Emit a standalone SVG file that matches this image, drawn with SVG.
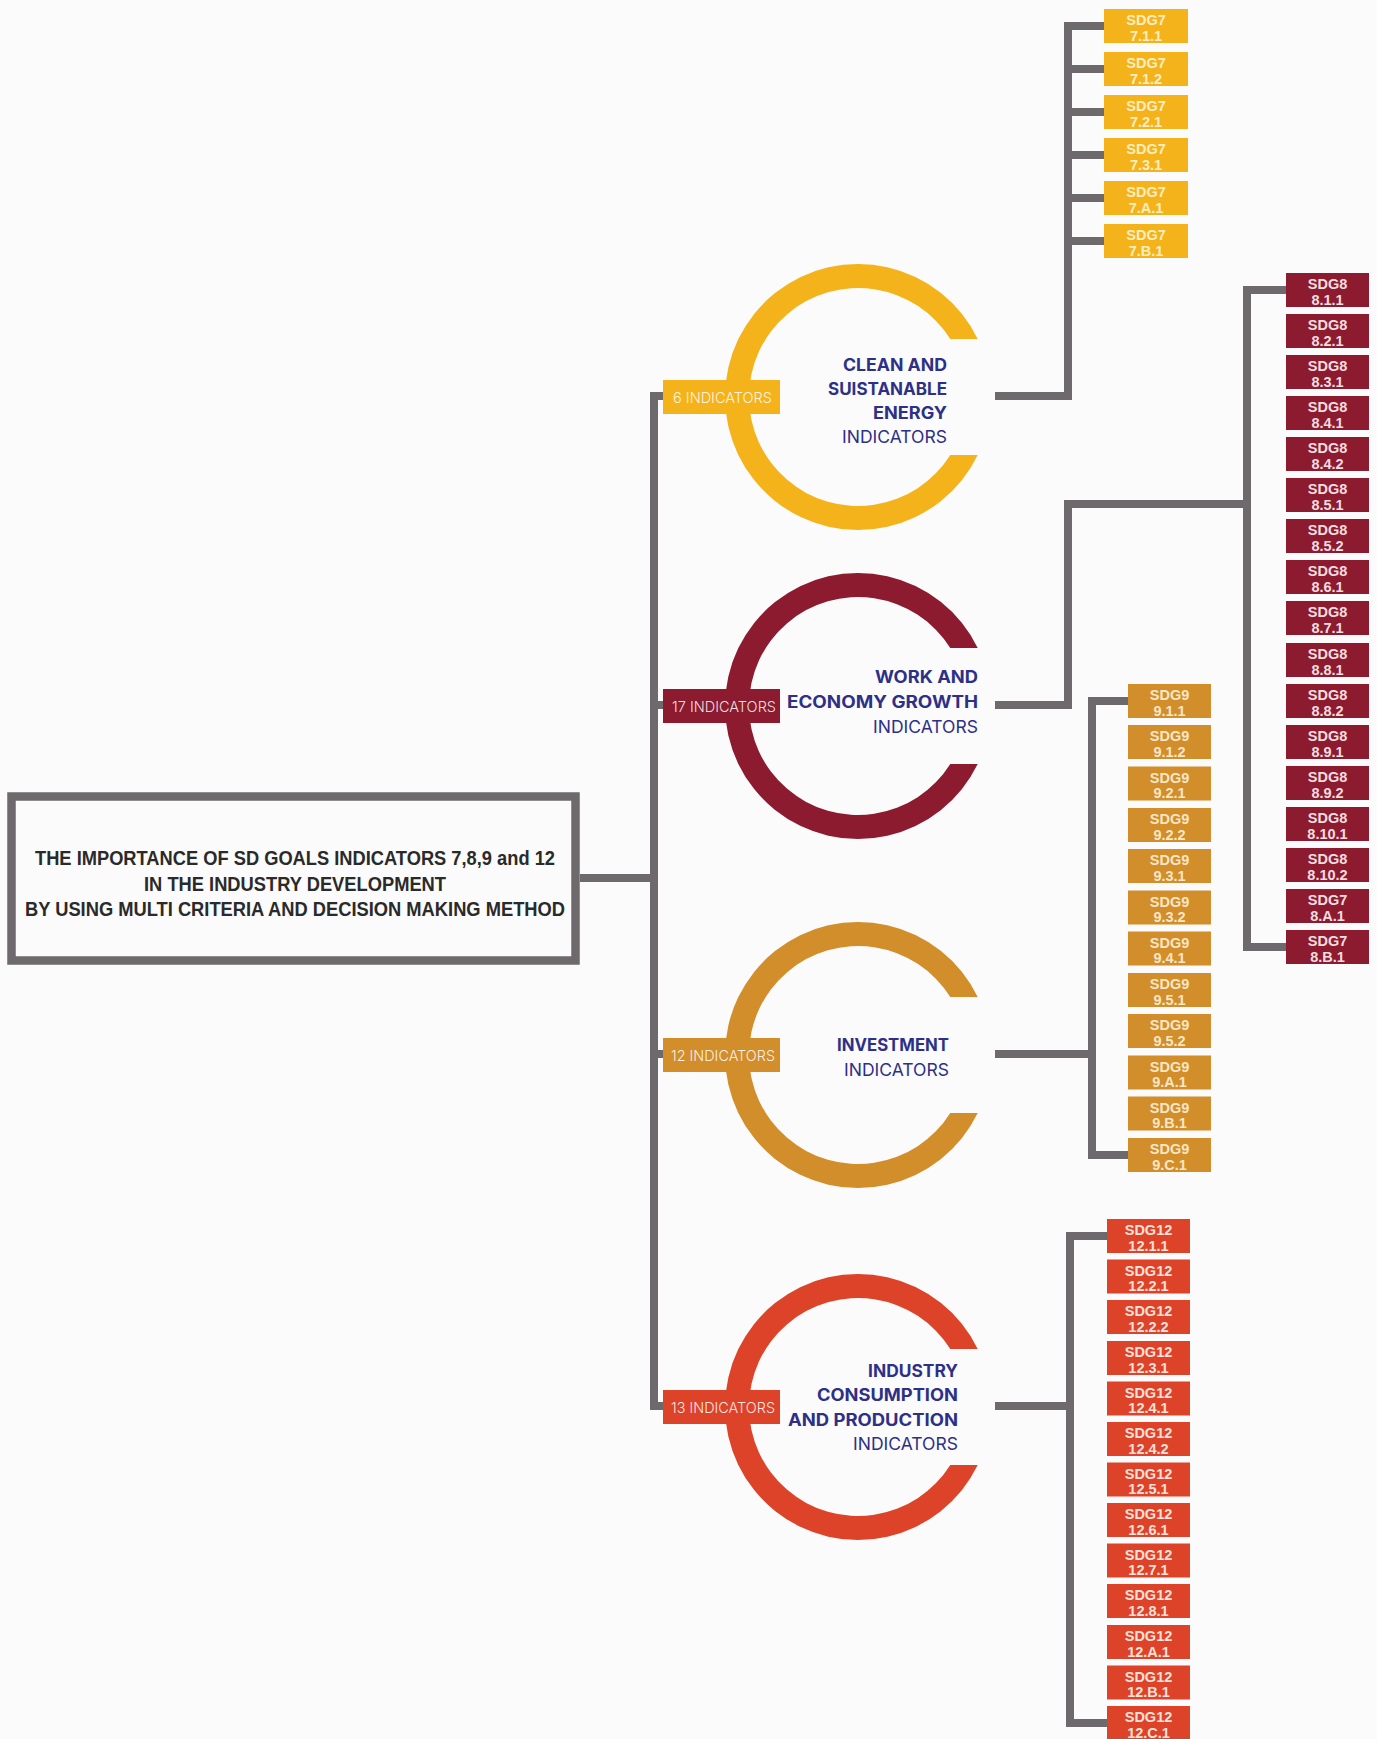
<svg xmlns="http://www.w3.org/2000/svg" xmlns:xlink="http://www.w3.org/1999/xlink" width="1377" height="1739" viewBox="0 0 1377 1739">
<style>
.conn{fill:none;stroke:#6e696c;stroke-width:8;stroke-linejoin:miter;stroke-linecap:butt}
.title{font-family:"Liberation Sans",Arial,sans-serif;font-weight:700;font-size:21px;fill:#2a2a2a;text-anchor:middle}
.hb{font-family:Inter,"Noto Sans",sans-serif;font-weight:700;font-size:17px;fill:#2e3087;text-anchor:end}
.hr{font-family:Inter,"Noto Sans",sans-serif;font-weight:400;font-size:17px;fill:#2e3087;text-anchor:end}
.ind{font-family:Inter,"Noto Sans",sans-serif;font-weight:300;font-size:15px;fill:#fff;fill-opacity:0.88}
.bx{font-family:"Liberation Sans",Arial,sans-serif;font-weight:700;font-size:14.5px;text-anchor:middle}
.y{fill:#f5b31b}.c{fill:#8c1b2f}.g{fill:#d28e2a}.r{fill:#dd4329}
.ty{fill:#fdeec0}.tc{fill:#f4dde0}.tg{fill:#f8e6c6}.tr{fill:#fbe1da}
</style>
<defs>
<path id="ring" d="M119.7,-58 A133,133 0 1,0 119.7,58 L92.3,58 A109,109 0 1,1 92.3,-58 Z"/>
</defs>
<rect width="1377" height="1739" fill="#fbfbfb"/>

<g id="connectors">
<path class="conn" d="M580,878 H654"/>
<path class="conn" d="M663,396 H654 V1406 H663 M654,705 H663 M654,1054 H663"/>
<path class="conn" d="M995,396 H1068 V26 H1104 M1068,69 H1104 M1068,112 H1104 M1068,155 H1104 M1068,198 H1104 M1068,241 H1104"/>
<path class="conn" d="M995,705 H1068 V504 H1247 M1286,290 H1247 V947 H1286"/>
<path class="conn" d="M995,1054 H1092 M1128,701 H1092 V1155 H1128"/>
<path class="conn" d="M995,1406 H1070 M1107,1236 H1070 V1723 H1107"/>
</g>

<g id="main">
<rect x="11.5" y="796.5" width="564" height="164" fill="#fbfbfb" stroke="#6e696c" stroke-width="8.5"/>
<text class="title" x="295" y="865" textLength="520" lengthAdjust="spacingAndGlyphs">THE IMPORTANCE OF SD GOALS INDICATORS 7,8,9 and 12</text>
<text class="title" x="295" y="891" textLength="302" lengthAdjust="spacingAndGlyphs">IN THE INDUSTRY DEVELOPMENT</text>
<text class="title" x="295" y="916" textLength="540" lengthAdjust="spacingAndGlyphs">BY USING MULTI CRITERIA AND DECISION MAKING METHOD</text>
</g>

<g id="goal7">
<use xlink:href="#ring" href="#ring" x="858" y="397" class="y"/>
<rect x="663" y="380" width="117" height="34" class="y"/>
<text class="ind" x="673" y="402.5" textLength="99" lengthAdjust="spacingAndGlyphs">6 INDICATORS</text>
<text class="hb" x="947" y="371" textLength="104" lengthAdjust="spacingAndGlyphs">CLEAN AND</text>
<text class="hb" x="947" y="395" textLength="119" lengthAdjust="spacingAndGlyphs">SUISTANABLE</text>
<text class="hb" x="947" y="419" textLength="74" lengthAdjust="spacingAndGlyphs">ENERGY</text>
<text class="hr" x="947" y="443" textLength="105" lengthAdjust="spacingAndGlyphs">INDICATORS</text>
</g>

<g id="goal8">
<use xlink:href="#ring" href="#ring" x="858" y="706" class="c"/>
<rect x="663" y="689" width="117" height="34" class="c"/>
<text class="ind" x="672" y="711.5" textLength="104" lengthAdjust="spacingAndGlyphs">17 INDICATORS</text>
<text class="hb" x="978" y="683" textLength="103" lengthAdjust="spacingAndGlyphs">WORK AND</text>
<text class="hb" x="978" y="708" textLength="191" lengthAdjust="spacingAndGlyphs">ECONOMY GROWTH</text>
<text class="hr" x="978" y="733" textLength="105" lengthAdjust="spacingAndGlyphs">INDICATORS</text>
</g>

<g id="goal9">
<use xlink:href="#ring" href="#ring" x="858" y="1055" class="g"/>
<rect x="663" y="1038" width="117" height="34" class="g"/>
<text class="ind" x="671" y="1060.5" textLength="104" lengthAdjust="spacingAndGlyphs">12 INDICATORS</text>
<text class="hb" x="949" y="1051" textLength="112" lengthAdjust="spacingAndGlyphs">INVESTMENT</text>
<text class="hr" x="949" y="1076" textLength="105" lengthAdjust="spacingAndGlyphs">INDICATORS</text>
</g>

<g id="goal12">
<use xlink:href="#ring" href="#ring" x="858" y="1407" class="r"/>
<rect x="663" y="1390" width="117" height="34" class="r"/>
<text class="ind" x="671" y="1412.5" textLength="104" lengthAdjust="spacingAndGlyphs">13 INDICATORS</text>
<text class="hb" x="958" y="1377" textLength="90" lengthAdjust="spacingAndGlyphs">INDUSTRY</text>
<text class="hb" x="958" y="1401" textLength="141" lengthAdjust="spacingAndGlyphs">CONSUMPTION</text>
<text class="hb" x="958" y="1426" textLength="170" lengthAdjust="spacingAndGlyphs">AND PRODUCTION</text>
<text class="hr" x="958" y="1450" textLength="105" lengthAdjust="spacingAndGlyphs">INDICATORS</text>
</g>

<g id="sdg7-boxes">
<g id="s7-711"><rect x="1104" y="9" width="84" height="34" class="y"/><text class="bx ty" x="1146" y="25">SDG7</text><text class="bx ty" x="1146" y="40.5">7.1.1</text></g>
<g id="s7-712"><rect x="1104" y="52" width="84" height="34" class="y"/><text class="bx ty" x="1146" y="68">SDG7</text><text class="bx ty" x="1146" y="83.5">7.1.2</text></g>
<g id="s7-721"><rect x="1104" y="95" width="84" height="34" class="y"/><text class="bx ty" x="1146" y="111">SDG7</text><text class="bx ty" x="1146" y="126.5">7.2.1</text></g>
<g id="s7-731"><rect x="1104" y="138" width="84" height="34" class="y"/><text class="bx ty" x="1146" y="154">SDG7</text><text class="bx ty" x="1146" y="169.5">7.3.1</text></g>
<g id="s7-7a1"><rect x="1104" y="181" width="84" height="34" class="y"/><text class="bx ty" x="1146" y="197">SDG7</text><text class="bx ty" x="1146" y="212.5">7.A.1</text></g>
<g id="s7-7b1"><rect x="1104" y="224" width="84" height="34" class="y"/><text class="bx ty" x="1146" y="240">SDG7</text><text class="bx ty" x="1146" y="255.5">7.B.1</text></g>
</g>

<g id="sdg8-boxes">
<g id="s8-811"><rect x="1286" y="273" width="83" height="34" class="c"/><text class="bx tc" x="1327.5" y="289">SDG8</text><text class="bx tc" x="1327.5" y="304.5">8.1.1</text></g>
<g id="s8-821"><rect x="1286" y="314" width="83" height="34" class="c"/><text class="bx tc" x="1327.5" y="330">SDG8</text><text class="bx tc" x="1327.5" y="345.5">8.2.1</text></g>
<g id="s8-831"><rect x="1286" y="355" width="83" height="34" class="c"/><text class="bx tc" x="1327.5" y="371">SDG8</text><text class="bx tc" x="1327.5" y="386.5">8.3.1</text></g>
<g id="s8-841"><rect x="1286" y="396" width="83" height="34" class="c"/><text class="bx tc" x="1327.5" y="412">SDG8</text><text class="bx tc" x="1327.5" y="427.5">8.4.1</text></g>
<g id="s8-842"><rect x="1286" y="437" width="83" height="34" class="c"/><text class="bx tc" x="1327.5" y="453">SDG8</text><text class="bx tc" x="1327.5" y="468.5">8.4.2</text></g>
<g id="s8-851"><rect x="1286" y="478" width="83" height="34" class="c"/><text class="bx tc" x="1327.5" y="494">SDG8</text><text class="bx tc" x="1327.5" y="509.5">8.5.1</text></g>
<g id="s8-852"><rect x="1286" y="519" width="83" height="34" class="c"/><text class="bx tc" x="1327.5" y="535">SDG8</text><text class="bx tc" x="1327.5" y="550.5">8.5.2</text></g>
<g id="s8-861"><rect x="1286" y="560" width="83" height="34" class="c"/><text class="bx tc" x="1327.5" y="576">SDG8</text><text class="bx tc" x="1327.5" y="591.5">8.6.1</text></g>
<g id="s8-871"><rect x="1286" y="601" width="83" height="34" class="c"/><text class="bx tc" x="1327.5" y="617">SDG8</text><text class="bx tc" x="1327.5" y="632.5">8.7.1</text></g>
<g id="s8-881"><rect x="1286" y="643" width="83" height="34" class="c"/><text class="bx tc" x="1327.5" y="659">SDG8</text><text class="bx tc" x="1327.5" y="674.5">8.8.1</text></g>
<g id="s8-882"><rect x="1286" y="684" width="83" height="34" class="c"/><text class="bx tc" x="1327.5" y="700">SDG8</text><text class="bx tc" x="1327.5" y="715.5">8.8.2</text></g>
<g id="s8-891"><rect x="1286" y="725" width="83" height="34" class="c"/><text class="bx tc" x="1327.5" y="741">SDG8</text><text class="bx tc" x="1327.5" y="756.5">8.9.1</text></g>
<g id="s8-892"><rect x="1286" y="766" width="83" height="34" class="c"/><text class="bx tc" x="1327.5" y="782">SDG8</text><text class="bx tc" x="1327.5" y="797.5">8.9.2</text></g>
<g id="s8-8101"><rect x="1286" y="807" width="83" height="34" class="c"/><text class="bx tc" x="1327.5" y="823">SDG8</text><text class="bx tc" x="1327.5" y="838.5">8.10.1</text></g>
<g id="s8-8102"><rect x="1286" y="848" width="83" height="34" class="c"/><text class="bx tc" x="1327.5" y="864">SDG8</text><text class="bx tc" x="1327.5" y="879.5">8.10.2</text></g>
<g id="s8-8a1"><rect x="1286" y="889" width="83" height="34" class="c"/><text class="bx tc" x="1327.5" y="905">SDG7</text><text class="bx tc" x="1327.5" y="920.5">8.A.1</text></g>
<g id="s8-8b1"><rect x="1286" y="930" width="83" height="34" class="c"/><text class="bx tc" x="1327.5" y="946">SDG7</text><text class="bx tc" x="1327.5" y="961.5">8.B.1</text></g>
</g>

<g id="sdg9-boxes">
<g id="s9-911"><rect x="1128" y="684" width="83" height="34" class="g"/><text class="bx tg" x="1169.5" y="700">SDG9</text><text class="bx tg" x="1169.5" y="715.5">9.1.1</text></g>
<g id="s9-912"><rect x="1128" y="725" width="83" height="34" class="g"/><text class="bx tg" x="1169.5" y="741">SDG9</text><text class="bx tg" x="1169.5" y="756.5">9.1.2</text></g>
<g id="s9-921"><rect x="1128" y="766.5" width="83" height="34" class="g"/><text class="bx tg" x="1169.5" y="782.5">SDG9</text><text class="bx tg" x="1169.5" y="798">9.2.1</text></g>
<g id="s9-922"><rect x="1128" y="808" width="83" height="34" class="g"/><text class="bx tg" x="1169.5" y="824">SDG9</text><text class="bx tg" x="1169.5" y="839.5">9.2.2</text></g>
<g id="s9-931"><rect x="1128" y="849" width="83" height="34" class="g"/><text class="bx tg" x="1169.5" y="865">SDG9</text><text class="bx tg" x="1169.5" y="880.5">9.3.1</text></g>
<g id="s9-932"><rect x="1128" y="890.5" width="83" height="34" class="g"/><text class="bx tg" x="1169.5" y="906.5">SDG9</text><text class="bx tg" x="1169.5" y="922">9.3.2</text></g>
<g id="s9-941"><rect x="1128" y="931.5" width="83" height="34" class="g"/><text class="bx tg" x="1169.5" y="947.5">SDG9</text><text class="bx tg" x="1169.5" y="963">9.4.1</text></g>
<g id="s9-951"><rect x="1128" y="973" width="83" height="34" class="g"/><text class="bx tg" x="1169.5" y="989">SDG9</text><text class="bx tg" x="1169.5" y="1004.5">9.5.1</text></g>
<g id="s9-952"><rect x="1128" y="1014" width="83" height="34" class="g"/><text class="bx tg" x="1169.5" y="1030">SDG9</text><text class="bx tg" x="1169.5" y="1045.5">9.5.2</text></g>
<g id="s9-9a1"><rect x="1128" y="1055.5" width="83" height="34" class="g"/><text class="bx tg" x="1169.5" y="1071.5">SDG9</text><text class="bx tg" x="1169.5" y="1087">9.A.1</text></g>
<g id="s9-9b1"><rect x="1128" y="1096.5" width="83" height="34" class="g"/><text class="bx tg" x="1169.5" y="1112.5">SDG9</text><text class="bx tg" x="1169.5" y="1128">9.B.1</text></g>
<g id="s9-9c1"><rect x="1128" y="1138" width="83" height="34" class="g"/><text class="bx tg" x="1169.5" y="1154">SDG9</text><text class="bx tg" x="1169.5" y="1169.5">9.C.1</text></g>
</g>

<g id="sdg12-boxes">
<g id="s12-1211"><rect x="1107" y="1219" width="83" height="34" class="r"/><text class="bx tr" x="1148.5" y="1235">SDG12</text><text class="bx tr" x="1148.5" y="1250.5">12.1.1</text></g>
<g id="s12-1221"><rect x="1107" y="1259.5" width="83" height="34" class="r"/><text class="bx tr" x="1148.5" y="1275.5">SDG12</text><text class="bx tr" x="1148.5" y="1291">12.2.1</text></g>
<g id="s12-1222"><rect x="1107" y="1300" width="83" height="34" class="r"/><text class="bx tr" x="1148.5" y="1316">SDG12</text><text class="bx tr" x="1148.5" y="1331.5">12.2.2</text></g>
<g id="s12-1231"><rect x="1107" y="1341" width="83" height="34" class="r"/><text class="bx tr" x="1148.5" y="1357">SDG12</text><text class="bx tr" x="1148.5" y="1372.5">12.3.1</text></g>
<g id="s12-1241"><rect x="1107" y="1381.5" width="83" height="34" class="r"/><text class="bx tr" x="1148.5" y="1397.5">SDG12</text><text class="bx tr" x="1148.5" y="1413">12.4.1</text></g>
<g id="s12-1242"><rect x="1107" y="1422" width="83" height="34" class="r"/><text class="bx tr" x="1148.5" y="1438">SDG12</text><text class="bx tr" x="1148.5" y="1453.5">12.4.2</text></g>
<g id="s12-1251"><rect x="1107" y="1462.5" width="83" height="34" class="r"/><text class="bx tr" x="1148.5" y="1478.5">SDG12</text><text class="bx tr" x="1148.5" y="1494">12.5.1</text></g>
<g id="s12-1261"><rect x="1107" y="1503" width="83" height="34" class="r"/><text class="bx tr" x="1148.5" y="1519">SDG12</text><text class="bx tr" x="1148.5" y="1534.5">12.6.1</text></g>
<g id="s12-1271"><rect x="1107" y="1543.5" width="83" height="34" class="r"/><text class="bx tr" x="1148.5" y="1559.5">SDG12</text><text class="bx tr" x="1148.5" y="1575">12.7.1</text></g>
<g id="s12-1281"><rect x="1107" y="1584" width="83" height="34" class="r"/><text class="bx tr" x="1148.5" y="1600">SDG12</text><text class="bx tr" x="1148.5" y="1615.5">12.8.1</text></g>
<g id="s12-12a1"><rect x="1107" y="1625" width="83" height="34" class="r"/><text class="bx tr" x="1148.5" y="1641">SDG12</text><text class="bx tr" x="1148.5" y="1656.5">12.A.1</text></g>
<g id="s12-12b1"><rect x="1107" y="1665.5" width="83" height="34" class="r"/><text class="bx tr" x="1148.5" y="1681.5">SDG12</text><text class="bx tr" x="1148.5" y="1697">12.B.1</text></g>
<g id="s12-12c1"><rect x="1107" y="1706" width="83" height="34" class="r"/><text class="bx tr" x="1148.5" y="1722">SDG12</text><text class="bx tr" x="1148.5" y="1737.5">12.C.1</text></g>
</g>
</svg>
